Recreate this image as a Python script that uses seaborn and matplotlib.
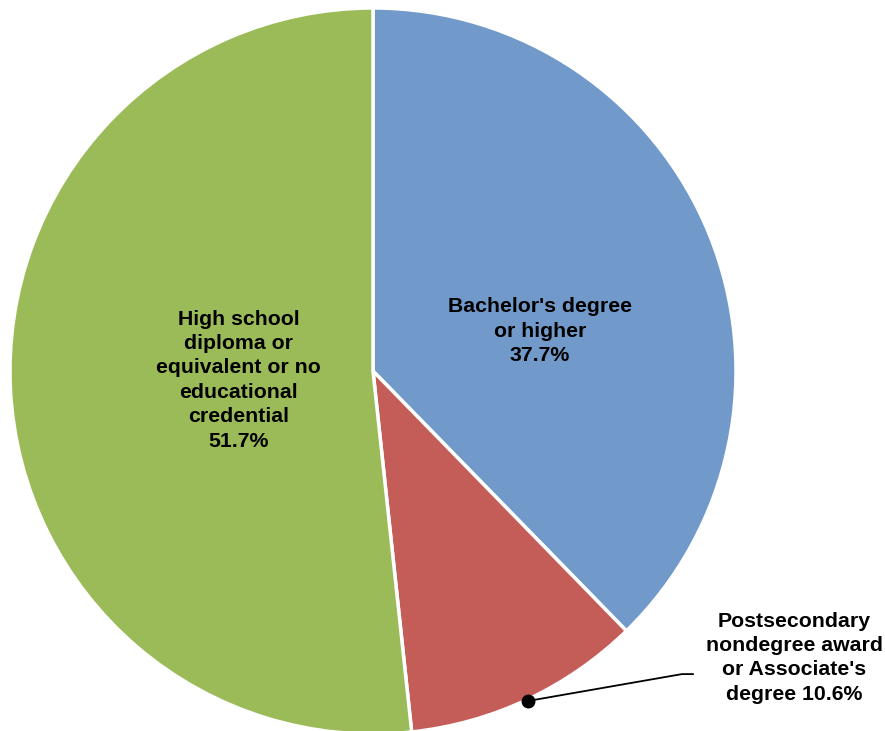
import matplotlib
matplotlib.use("Agg")
import matplotlib.pyplot as plt
import seaborn as sns

categories = ["Bachelor's degree\nor higher",
              "Postsecondary\nnondegree award\nor Associate's\ndegree",
              "High school\ndiploma or\nequivalent or no\neducational\ncredential"]
shares = [37.7, 10.6, 51.7]
colors = ['#7199c9', '#c45c58', '#9bbb59']

sns.set_theme(style='white')
plt.rcParams['font.family'] = ['Liberation Sans', 'DejaVu Sans']

fig = plt.figure(figsize=(8.85, 7.31), dpi=100)
# pie centre ~ (373, 371) px, radius ~363 px
ax = fig.add_axes([10 / 885, (731 - 371 - 363) / 731, 726 / 885, 726 / 731])

wedges, _ = ax.pie(shares, colors=colors, startangle=90, counterclock=False,
                   wedgeprops=dict(edgecolor='white', linewidth=2.5))
ax.set_xlim(-1, 1)
ax.set_ylim(-1, 1)
ax.set_aspect('equal')
ax.axis('off')

fs = 15.3
ls = 1.36
ax.text(0.46, 0.11, f"{categories[0]}\n{shares[0]}%", ha='center', va='center',
        fontsize=fs, fontweight='bold', color='black', linespacing=ls)
ax.text(-0.37, -0.025, f"{categories[2]}\n{shares[2]}%", ha='center', va='center',
        fontsize=fs, fontweight='bold', color='black', linespacing=ls)

# leader line for the small slice
ax.plot([0.427, 0.851, 0.882], [-0.909, -0.835, -0.835], color='black', lw=1.3,
        clip_on=False)
ax.plot([0.427], [-0.909], 'o', color='black', ms=9, clip_on=False)
ax.text(1.16, -0.79, f"{categories[1]} {shares[1]}%", ha='center', va='center',
        fontsize=fs, fontweight='bold', color='black', clip_on=False, linespacing=ls)

fig.savefig('out.png', dpi=100)
